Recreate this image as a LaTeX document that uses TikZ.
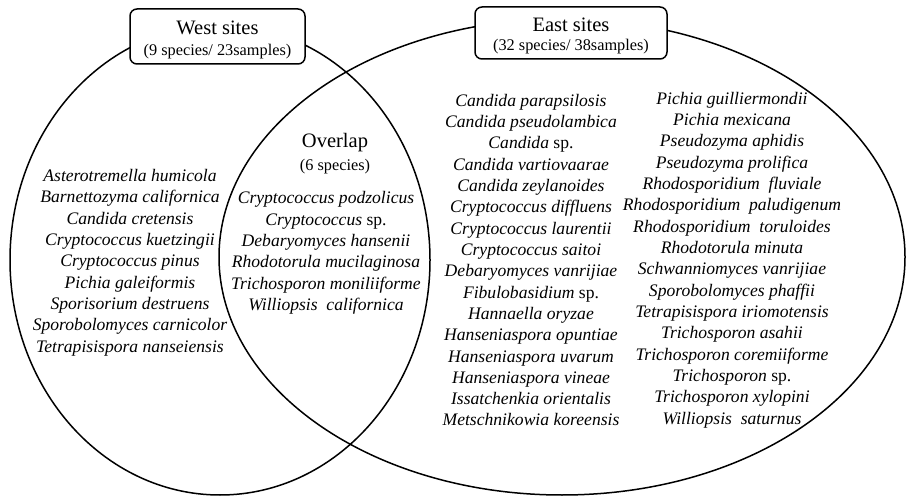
\documentclass[tikz,border=0pt]{standalone}
\usepackage{fontspec}
\setmainfont{Liberation Serif}
\begin{document}
\begin{tikzpicture}[x=1pt,y=-1pt,
  venn/.style={draw=black,line width=1.5pt},
  titlebox/.style={draw=black,line width=1.5pt,rounded corners=7pt,fill=white},
  ttl/.style={inner sep=0pt,font=\fontsize{20.5}{24}\selectfont},
  sub/.style={inner sep=0pt,font=\fontsize{16.3}{20}\selectfont},
  species/.style={inner sep=0pt,align=center,font=\fontsize{17.6}{21.33}\selectfont\itshape}]
\useasboundingbox (0,0) rectangle (908,497);
\fill[white] (0,0) rectangle (908,497);
% circles
\draw[venn] (220,260) ellipse [x radius=210, y radius=235];
\draw[venn] (562,257) ellipse [x radius=343, y radius=238];
% title boxes
\path[titlebox] (130,9) rectangle (305,64);
\coordinate (westbox) at (217.5,36.5);
\path[titlebox] (475,7) rectangle (667,59);
\coordinate (eastbox) at (571,33);
\node[ttl] (westt) at (217.5,28) {West sites};
\node[sub] (wests) at (217.5,52) {(9 species/ 23samples)};
\node[ttl] (eastt) at (571,25) {East sites};
\node[sub] (easts) at (571,47) {(32 species/ 38samples)};
\node[ttl] (ovt) at (335,143) {Overlap};
\node[sub] (ovs) at (335,167) {(6 species)};
% species lists
\node[species] (west) at (130,262.5) {Asterotremella humicola\\Barnettozyma californica\\Candida cretensis\\Cryptococcus kuetzingii\\Cryptococcus pinus\\Pichia galeiformis\\Sporisorium destruens\\Sporobolomyces carnicolor\\Tetrapisispora nanseiensis};
\node[species] (overlap) at (326,253) {Cryptococcus podzolicus\\Cryptococcus \textup{sp.}\\Debaryomyces hansenii\\Rhodotorula mucilaginosa\\Trichosporon moniliiforme\\Williopsis\ \ californica};
\node[species] (eastA) at (531,260) {Candida parapsilosis\\Candida pseudolambica\\Candida \textup{sp.}\\Candida vartiovaarae\\Candida zeylanoides\\Cryptococcus diffluens\\Cryptococcus laurentii\\Cryptococcus saitoi\\Debaryomyces vanrijiae\\Fibulobasidium \textup{sp.}\\Hannaella oryzae\\Hanseniaspora opuntiae\\Hanseniaspora uvarum\\Hanseniaspora vineae\\Issatchenkia orientalis\\Metschnikowia koreensis};
\node[species] (eastB) at (732,260) {Pichia guilliermondii\\Pichia mexicana\\Pseudozyma aphidis\\Pseudozyma prolifica\\Rhodosporidium\ \ fluviale\\Rhodosporidium\ \ paludigenum\\Rhodosporidium\ \ toruloides\\Rhodotorula minuta\\Schwanniomyces vanrijiae\\Sporobolomyces phaffii\\Tetrapisispora iriomotensis\\Trichosporon asahii\\Trichosporon coremiiforme\\Trichosporon \textup{sp.}\\Trichosporon xylopini\\Williopsis\ \ saturnus};
\end{tikzpicture}
\end{document}
